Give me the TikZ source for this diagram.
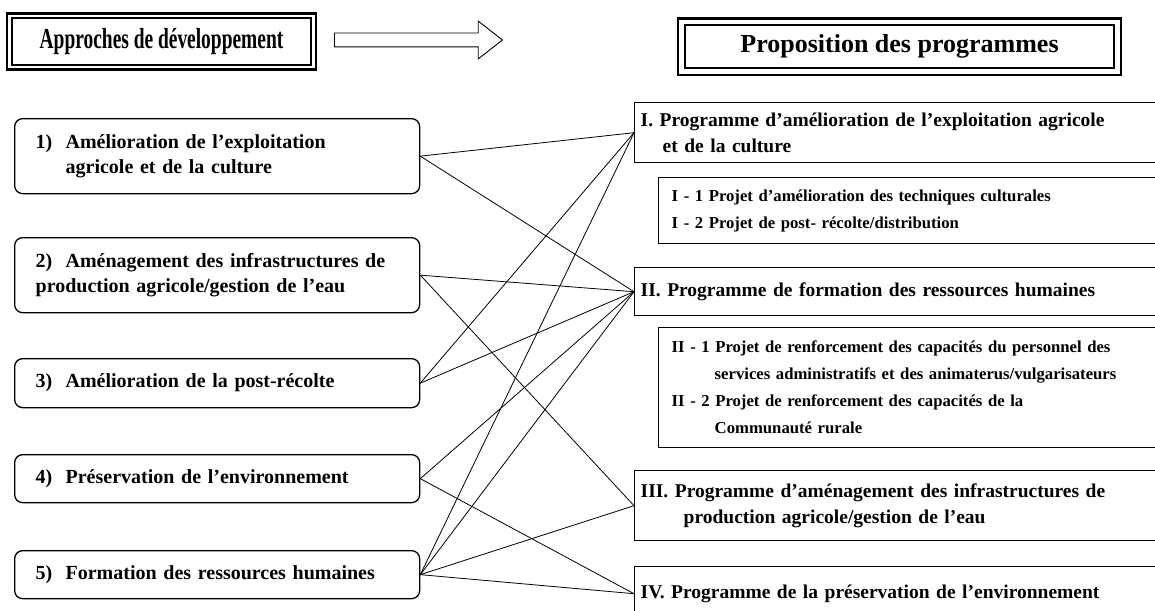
\documentclass[tikz,border=0pt]{standalone}
\usepackage{fontspec}
\usepackage{graphicx}
\usepackage{tikz}
\usetikzlibrary{shapes.arrows}
\setmainfont{Liberation Serif}
\newcommand{\gunit}{1pt}
\newcommand{\nlab}[1]{\makebox[30pt][l]{#1}}
\newcommand{\hang}[1]{\hspace*{#1pt}}

\begin{document}
\begin{tikzpicture}[x=\gunit,y=-\gunit]
        \tikzset{
            hdrbox/.style = {draw, line width=1.3pt, inner sep=0pt},
            apbox/.style = {draw, rounded corners=8pt, line width=1.3pt, anchor=north west,
                minimum width=405pt, text width=363pt, inner xsep=21pt, align=left,
                font=\bfseries\fontsize{20}{25}\selectfont},
            prbox/.style = {draw, line width=1.4pt, anchor=north west,
                minimum width=545pt, text width=533pt, inner xsep=6pt, align=left,
                font=\bfseries\fontsize{19.5}{26}\selectfont},
            subbox/.style = {prbox, minimum width=521pt, text width=495pt, inner xsep=13pt,
                font=\bfseries\fontsize{16.7}{27}\selectfont},
            link/.style = {line width=0.8pt}
        }
        \useasboundingbox (0,0) rectangle (1155,610);
        \clip (0,0) rectangle (1155,610);

        % headers
        \node[hdrbox, minimum width=299pt, minimum height=47pt] (hA) at (161.5,41.5)
            {\fontsize{29}{32}\selectfont\bfseries\scalebox{0.67}[1]{Approches de développement}};
        \draw[line width=2.6pt] ([xshift=-4.5pt,yshift=4pt]hA.north west) rectangle ([xshift=4.5pt,yshift=-4pt]hA.south east);
        \node[hdrbox, minimum width=429pt, minimum height=43pt] (hB) at (899.5,46.5)
            {\fontsize{26}{30}\selectfont\bfseries Proposition des programmes};
        \draw[line width=2.6pt] ([xshift=-6.5pt,yshift=6pt]hB.north west) rectangle ([xshift=6.5pt,yshift=-6.5pt]hB.south east);
        \node[draw, single arrow, line width=0.9pt, minimum height=168pt, inner sep=6.5pt,
            single arrow head extend=12pt, single arrow tip angle=76] (arr) at (414,40) {};

        % approches
        \node[apbox, minimum height=75pt] (ap1) at (14,118)
            {\nlab{1)}Amélioration de l’exploitation\\\hang{30}agricole et de la culture};
        \node[apbox, minimum height=75pt] (ap2) at (14,237)
            {\nlab{2)}Aménagement des infrastructures de\\production agricole/gestion de l’eau};
        \node[apbox, minimum height=49pt] (ap3) at (14,358) {\nlab{3)}Amélioration de la post-récolte};
        \node[apbox, minimum height=48pt] (ap4) at (14,454) {\nlab{4)}Préservation de l’environnement};
        \node[apbox, minimum height=48pt] (ap5) at (14,550) {\nlab{5)}Formation des ressources humaines};

        % programmes
        \node[prbox, minimum height=60pt] (prI) at (634,102)
            {I. Programme d’amélioration de l’exploitation agricole\\\hang{22}et de la culture};
        \node[subbox, minimum height=66pt] (prIs) at (658,177)
            {I - 1 Projet d’amélioration des techniques culturales\\I - 2 Projet de post- récolte/distribution};
        \node[prbox, minimum height=48pt] (prII) at (634,267)
            {II. Programme de formation des ressources humaines};
        \node[subbox, minimum height=120pt] (prIIs) at (658,327)
            {II - 1 Projet de renforcement des capacités du personnel des\\\hang{43}services administratifs et des animaterus/vulgarisateurs\\
             II - 2 Projet de renforcement des capacités de la\\\hang{43}Communauté rurale};
        \node[prbox, minimum height=70pt] (prIII) at (634,470)
            {III. Programme d’aménagement des infrastructures de\\\hang{43}production agricole/gestion de l’eau};
        \node[prbox, minimum height=54pt] (prIV) at (634,566)
            {IV. Programme de la préservation de l’environnement};

        \draw[link] (ap1.east) -- (prI.west);
        \draw[link] (ap1.east) -- (prII.west);

        \draw[link] (ap2.east) -- (prII.west);
        \draw[link] (ap2.east) -- (prIII.west);

        \draw[link] (ap3.east) -- (prI.west);
        \draw[link] (ap3.east) -- (prII.west);

        \draw[link] (ap4.east) -- (prII.west);
        \draw[link] (ap4.east) -- (prIV.west);

        \draw[link] (ap5.east) -- (prI.west);
        \draw[link] (ap5.east) -- (prII.west);
        \draw[link] (ap5.east) -- (prIII.west);
        \draw[link] (ap5.east) -- (prIV.west);

    \end{tikzpicture}
\end{document}
